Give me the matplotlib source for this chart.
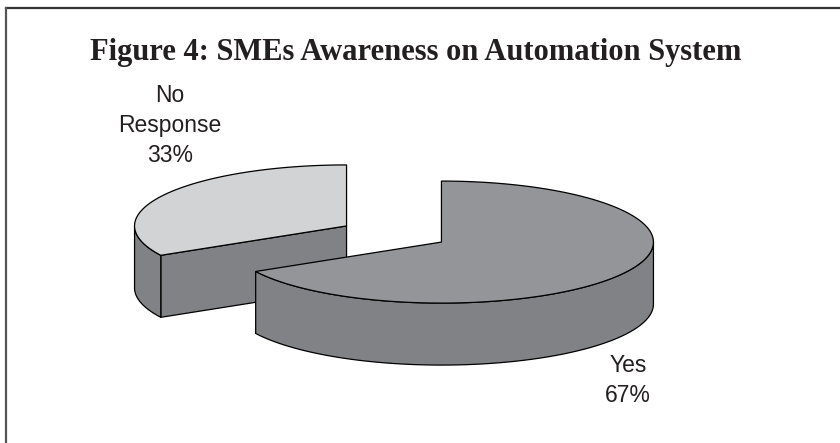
import numpy as np
import matplotlib
matplotlib.use('Agg')
from matplotlib import pyplot as plt
from matplotlib.patches import Polygon
from matplotlib.lines import Line2D

# data
categories = ['Yes', 'No\nResponse']
shares = [67, 33]
top_colors = ['#939598', '#d1d3d4']
side_colors = ['#808285', '#808285']
title = 'Figure 4: SMEs Awareness on Automation System'

# pie layout (pixel units)
CX, CY = 394, 234
RX, RY = 212, 61
DEPTH = 62
EXPLODE = 0.26

fig = plt.figure(figsize=(8.4, 4.43), dpi=100)
ax = fig.add_axes([0, 0, 1, 1])
ax.set_xlim(0, 840)
ax.set_ylim(443, 0)
ax.axis('off')


def rim(cx, cy, t, dz=0):
    t = np.radians(t)
    return np.column_stack([cx + RX * np.cos(t), cy - RY * np.sin(t) + dz])


total = sum(shares)
slices = []
start = 90
for i, s in enumerate(shares):
    sweep = 360 * s / total
    t1, t2 = start - sweep, start
    mid = np.radians((t1 + t2) / 2)
    cx = CX + EXPLODE * RX * np.cos(mid)
    cy = CY - EXPLODE * RY * np.sin(mid)
    slices.append((i, t1, t2, cx, cy))
    start = t1

# back slices first
slices.sort(key=lambda r: r[4])

for i, t1, t2, cx, cy in slices:
    # radial cut faces
    for edge, nrm in ((t1, t1 - 90), (t2, t2 + 90)):
        if np.sin(np.radians(nrm)) < -1e-6:
            p = rim(cx, cy, [edge])[0]
            poly = [(cx, cy), p, (p[0], p[1] + DEPTH), (cx, cy + DEPTH)]
            ax.add_patch(Polygon(poly, closed=True, fc=side_colors[i], ec='black', lw=0.9))
    # outer wall, front part only
    for k in range(-2, 2):
        a = max(t1, 180 + 360 * k)
        b = min(t2, 360 + 360 * k)
        if b > a:
            tt = np.linspace(a, b, 120)
            upper = rim(cx, cy, tt)
            lower = rim(cx, cy, tt[::-1], DEPTH)
            ax.add_patch(Polygon(np.vstack([upper, lower]), closed=True,
                                 fc=side_colors[i], ec='black', lw=0.9))
    # top face
    tt = np.linspace(t1, t2, 300)
    pts = np.vstack([[cx, cy], rim(cx, cy, tt)])
    ax.add_patch(Polygon(pts, closed=True, fc=top_colors[i], ec='black', lw=0.9))

# labels (baseline of last line)
label_pos = [(628, 402), (170, 162)]
for i, name in enumerate(categories):
    ax.text(label_pos[i][0], label_pos[i][1], '{}\n{}%'.format(name, shares[i]),
            ha='center', va='baseline', fontsize=16.5, family='Liberation Sans',
            color='#231f20', linespacing=1.38)

ax.text(90, 60, title, ha='left', va='baseline', fontsize=22, fontweight='bold',
        family='Liberation Serif', color='#231f20')

# frame (top and left)
ax.add_line(Line2D([5.5, 840], [8, 8], color='#333333', lw=1.6))
ax.add_line(Line2D([5.5, 5.5], [8, 443], color='#555555', lw=1.6))

fig.savefig('out.png', dpi=100)
